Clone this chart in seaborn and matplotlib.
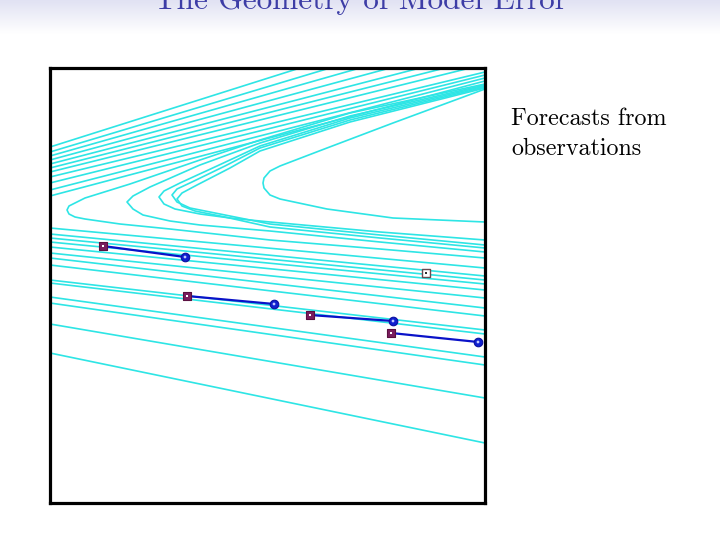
import numpy as np
import pandas as pd
import matplotlib
matplotlib.use('Agg')
import matplotlib.pyplot as plt
import seaborn as sns

# state space units: 0..435 on both axes
# straight lines of the upper bundle (start on the left edge)
upper_left_y = [356, 351, 347, 343, 339, 335, 331, 326, 320, 313, 307]
upper_end_x = [250, 280, 310, 340, 370, 395, 420, 435, 435, 435, 435]
upper_end_y = [435, 435, 435, 435, 435, 435, 435, 431, 428, 425, 422]

# hairpin trajectories (upper branch end -> turning point -> lower branch end)
h1_x = [435, 300, 210, 150, 80, 35, 25, 19, 17, 19, 25, 35, 70, 120, 220, 330, 435]
h1_y = [419, 390, 363, 343, 319, 305, 300, 297, 293, 289, 286, 284, 279, 274, 263, 254, 245]
h2_x = [435, 300, 210, 150, 100, 83, 77, 83, 93, 120, 150, 220, 330, 435]
h2_y = [418, 387, 360, 338, 316, 307, 301, 294, 288, 282, 278, 272, 261, 251]
h3_x = [435, 300, 210, 167, 130, 114, 109, 114, 125, 150, 180, 220, 330, 435]
h3_y = [417, 385, 357, 337, 320, 312, 306, 299, 294, 289, 285, 281, 271, 263]
h4_x = [435, 300, 210, 175, 142, 127, 122, 127, 140, 170, 220, 330, 435]
h4_y = [416, 383, 355, 337, 321, 314, 308, 301, 295, 289, 279, 268, 258]
h5_x = [435, 300, 210, 180, 147, 132, 127, 132, 145, 175, 220, 330, 435]
h5_y = [415, 381, 352, 335, 318, 310, 304, 297, 292, 286, 276, 265, 255]
h6_x = [435, 343, 277, 230, 220, 214, 213, 214, 220, 230, 277, 343, 435]
h6_y = [414, 380, 355, 337, 332, 325, 320, 315, 308, 304, 294, 285, 281]

# straight lines of the lower bundle (left edge -> right edge)
lower_left_y = [275, 269, 265, 261, 256, 250, 245, 238, 223, 220, 206, 200, 179, 150]
lower_right_y = [235, 227, 223, 219, 213, 205, 195, 187, 173, 169, 146, 138, 105, 60]

# forecasts: observation (square) -> forecast (circle)
fc_start_x = [53, 137, 260, 341]
fc_start_y = [257, 207, 188, 170]
fc_end_x = [135, 224, 343, 428]
fc_end_y = [246, 199, 182, 161]
obs_x = [376]
obs_y = [230]

rows = []
for i, (y0, x1, y1) in enumerate(zip(upper_left_y, upper_end_x, upper_end_y)):
    rows += [('u%d' % i, 0, 0, y0), ('u%d' % i, 1, x1, y1)]
for name, xs, ys in [('h1', h1_x, h1_y), ('h2', h2_x, h2_y), ('h3', h3_x, h3_y),
                     ('h4', h4_x, h4_y), ('h5', h5_x, h5_y), ('h6', h6_x, h6_y)]:
    rows += [(name, k, x, y) for k, (x, y) in enumerate(zip(xs, ys))]
for i, (y0, y1) in enumerate(zip(lower_left_y, lower_right_y)):
    rows += [('l%d' % i, 0, 0, y0), ('l%d' % i, 1, 435, y1)]
traj = pd.DataFrame(rows, columns=['curve', 'step', 'x', 'y'])

seg = pd.DataFrame({
    'fc': list(range(4)) * 2,
    'x': fc_start_x + fc_end_x,
    'y': fc_start_y + fc_end_y,
})

sns.set_style('white')
fig = plt.figure(figsize=(7.2, 5.4), dpi=100)

# slide header gradient
gax = fig.add_axes([0, 1 - 34 / 540, 1, 34 / 540])
grad = np.linspace(0, 1, 64).reshape(-1, 1)
gcmap = matplotlib.colors.LinearSegmentedColormap.from_list('hdr', ['#e1e2f3', '#ffffff'])
gax.imshow(grad, aspect='auto', cmap=gcmap)
gax.axis('off')

fig.text(0.5, 1 - 9 / 540, 'The Geometry of Model Error', ha='center', va='baseline',
         fontsize=22.5, color='#3d3da6', family='cmr10')

ax = fig.add_axes([50 / 720, 1 - 503 / 540, 435 / 720, 435 / 540])
sns.lineplot(data=traj, x='x', y='y', units='curve', estimator=None, sort=False,
             color='#2ee5e5', lw=1.2, ax=ax, legend=False)
sns.lineplot(data=seg, x='x', y='y', units='fc', estimator=None, sort=False,
             color='#0a12c8', lw=1.6, ax=ax, legend=False)
sns.scatterplot(x=fc_start_x, y=fc_start_y, marker='s', s=34, color='#7a1d5e',
                edgecolor='#5a1040', linewidth=0.8, ax=ax, zorder=5)
sns.scatterplot(x=fc_start_x, y=fc_start_y, marker='s', s=4, color='white',
                edgecolor='none', ax=ax, zorder=6)
sns.scatterplot(x=fc_end_x, y=fc_end_y, marker='o', s=38, color='#1020d0',
                edgecolor='#0a10a0', linewidth=0.8, ax=ax, zorder=5)
sns.scatterplot(x=fc_end_x, y=fc_end_y, marker='o', s=4, color='#c0c8ff',
                edgecolor='none', ax=ax, zorder=6)
sns.scatterplot(x=obs_x, y=obs_y, marker='s', s=34, color='white',
                edgecolor='#6a4a50', linewidth=1.0, ax=ax, zorder=5)
sns.scatterplot(x=obs_x, y=obs_y, marker='s', s=2, color='#303030',
                edgecolor='none', ax=ax, zorder=6)

ax.set_xlim(0, 435)
ax.set_ylim(0, 435)
ax.set_xticks([])
ax.set_yticks([])
ax.set_xlabel('')
ax.set_ylabel('')
for sp in ax.spines.values():
    sp.set_linewidth(2.3)
    sp.set_color('black')

fig.text(511 / 720, 1 - 125 / 540, 'Forecasts from', ha='left', va='baseline',
         fontsize=17.3, family='cmr10', color='black')
fig.text(511 / 720, 1 - 155 / 540, 'observations', ha='left', va='baseline',
         fontsize=17.3, family='cmr10', color='black')

fig.savefig('out.png', dpi=100)
